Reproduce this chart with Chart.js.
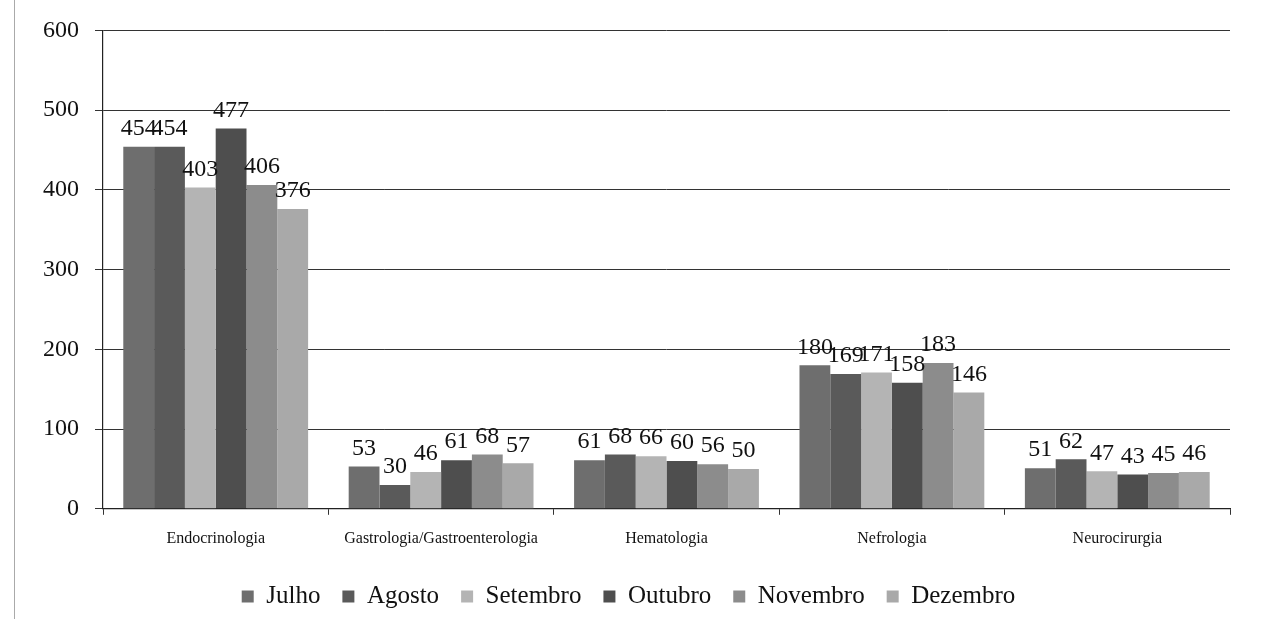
<!DOCTYPE html>
<html>
<head>
<meta charset="utf-8">
<script src="https://cdn.jsdelivr.net/npm/chart.js@4/dist/chart.umd.min.js"></script>
<style>
html,body{margin:0;padding:0;background:#fff;}
#wrap{position:relative;width:1275px;height:619px;}
#edge{position:absolute;left:14px;top:0;width:1px;height:619px;background:#aaa;}
canvas{position:absolute;left:0;top:0;}
</style>
</head>
<body>
<div id="wrap"><div id="edge"></div><canvas id="c" width="1275" height="619"></canvas></div>
<script>
const categories = ["Endocrinologia", "Gastrologia/Gastroenterologia", "Hematologia", "Nefrologia", "Neurocirurgia"];
const months = ["Julho", "Agosto", "Setembro", "Outubro", "Novembro", "Dezembro"];
const julho    = [454, 53, 61, 180, 51];
const agosto   = [454, 30, 68, 169, 62];
const setembro = [403, 46, 66, 171, 47];
const outubro  = [477, 61, 60, 158, 43];
const novembro = [406, 68, 56, 183, 45];
const dezembro = [376, 57, 50, 146, 46];
const yTicks = [0, 100, 200, 300, 400, 500, 600];

const seriesValues = [julho, agosto, setembro, outubro, novembro, dezembro];
const colors = ["#6e6e6e", "#5a5a5a", "#b4b4b4", "#4e4e4e", "#8c8c8c", "#a9a9a9"];

const labelPlugin = {
  id: 'barLabels',
  afterDatasetsDraw(chart) {
    const ctx = chart.ctx;
    ctx.save();
    ctx.font = '24px "Liberation Serif"';
    ctx.fillStyle = '#111';
    ctx.textAlign = 'center';
    ctx.textBaseline = 'bottom';
    chart.data.datasets.forEach((ds, i) => {
      const meta = chart.getDatasetMeta(i);
      meta.data.forEach((el, j) => {
        ctx.fillText(String(ds.data[j]), el.x, el.y - 6);
      });
    });
    ctx.restore();
  }
};

new Chart(document.getElementById('c'), {
  type: 'bar',
  data: {
    labels: categories,
    datasets: months.map((m, i) => ({
      label: m,
      data: seriesValues[i],
      backgroundColor: colors[i],
      borderWidth: 0,
      barPercentage: 1.0,
      categoryPercentage: 0.82
    }))
  },
  options: {
    responsive: false,
    animation: false,
    layout: { padding: { left: 27, right: 45, top: 18, bottom: 0 } },
    plugins: {
      legend: {
        position: 'bottom',
        labels: {
          font: { family: '"Liberation Serif"', size: 25 },
          color: '#111',
          boxWidth: 12,
          boxHeight: 12,
          padding: 22
        }
      },
      tooltip: { enabled: false }
    },
    scales: {
      x: {
        grid: { display: true, drawOnChartArea: false, color: '#333', tickLength: 6, offset: true },
        border: { color: '#222', width: 1.2 },
        ticks: { font: { family: '"Liberation Serif"', size: 16 }, color: '#111', padding: 14, maxRotation: 0 }
      },
      y: {
        min: 0,
        max: 600,
        afterBuildTicks(axis) { axis.ticks = yTicks.map(v => ({ value: v })); },
        grid: { color: '#333', lineWidth: 1, tickLength: 8 },
        border: { color: '#222', width: 1.2 },
        ticks: { font: { family: '"Liberation Serif"', size: 24 }, color: '#111', padding: 16 }
      }
    }
  },
  plugins: [labelPlugin]
});
</script>
</body>
</html>
